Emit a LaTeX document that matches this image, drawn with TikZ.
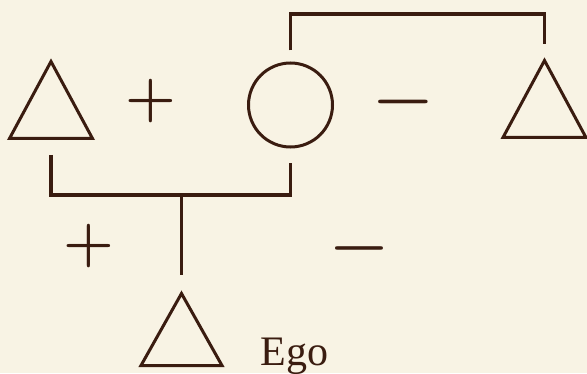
\documentclass[tikz,border=0pt]{standalone}
\usepackage{fontspec}
\newfontfamily\egofont{Liberation Serif}
\usetikzlibrary{shapes.geometric}
\definecolor{paper}{HTML}{F8F3E4}
\definecolor{ink}{HTML}{3A1C10}
\tikzset{
  every picture/.style={x=1pt, y=1pt, color=ink, line width=3pt},
  male/.style={draw, isosceles triangle, isosceles triangle stretches, shape border rotate=90,
    minimum width=#1, minimum height=77pt, inner sep=0pt, anchor=lower side},
  male/.default=83pt,
  female/.style={draw, circle, minimum size=84pt, inner sep=0pt},
  kin/.style={line width=3.4pt},
  sign/.style={inner sep=0pt, font=\bfseries\fontsize{#1}{#1}\selectfont},
  sign/.default=58,
}

\begin{document}
\begin{tikzpicture}
  \fill[paper] (0,0) rectangle (587,373);
  \useasboundingbox (0,0) rectangle (587,373);
  % parents and mother's brother
  \node[male] (fa) at (51,233) {};
  \node[female] (mo) at (290.5,268) {};
  \node[male] (mb) at (544.5,234) {};
  \node[male=81pt, minimum height=72pt] (ego) at (181.5,6) {};
  \node[anchor=base west, font=\egofont\fontsize{42}{42}\selectfont] (lbl) at (256,8) {Ego};
  % siblings of mother
  \coordinate (top) at (0,359);
  \draw[kin] ([yshift=11pt]mo.north) |- (top -| mb.apex) -- ([yshift=13pt]mb.apex);
  % marriage and descent
  \coordinate (jn) at (181.5,178);
  \draw[kin] ([yshift=-15pt]fa.lower side) |- (jn) -| ([yshift=-15pt]mo.south);
  \draw[kin] (jn) -- ([yshift=15pt]ego.apex);
  % attitudes
  \node[sign] (p1) at (151,272) {+};
  \node[sign=66] (m1) at (403.5,264) {−};
  \node[sign] (p2) at (89,127) {+};
  \node[sign=64] (m2) at (359,117) {−};
\end{tikzpicture}
\end{document}
